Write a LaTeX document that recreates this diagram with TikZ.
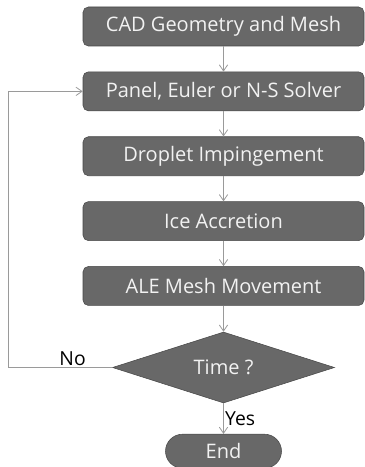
\documentclass[tikz,border=0pt]{standalone}
\usepackage{fontspec}
\setmainfont{Open Sans}
\usetikzlibrary{arrows.meta, shapes.geometric, positioning}

\definecolor{boxfill}{HTML}{686868}
\definecolor{boxline}{HTML}{484848}
\definecolor{boxtext}{HTML}{F2F2F2}
\definecolor{linkgray}{HTML}{9A9A9A}

\begin{document}
\begin{tikzpicture}[
    x=0.75pt, y=-0.75pt,
    node distance=19pt,
    box/.style={rectangle, draw=boxline, fill=boxfill, rounded corners=4pt, minimum width=210.75pt, minimum height=29.25pt, align=center, text=boxtext, font=\fontsize{15}{18}\selectfont},
    decision/.style={diamond, aspect=3, draw=boxline, fill=boxfill, minimum width=166.5pt, minimum height=53.25pt, inner sep=0pt, text=boxtext, font=\fontsize{15}{18}\selectfont},
    stopbox/.style={rectangle, draw=boxline, fill=boxfill, rounded corners=12.75pt, minimum width=87pt, minimum height=25.5pt, text=boxtext, font=\fontsize{15}{18}\selectfont},
    arrow/.style={-{Straight Barb[length=1.6mm, width=2.2mm]}, draw=linkgray, line width=0.6pt},
    tag/.style={font=\fontsize{14.5}{17}\selectfont, text=black, inner sep=1pt}
]
\useasboundingbox (0,0) rectangle (364,467);

\node[box] (cad) at (223.5,26.5) {CAD Geometry and Mesh};
\node[box, below=of cad] (solver) {Panel, Euler or N-S Solver};
\node[box, below=of solver] (droplet) {Droplet Impingement};
\node[box, below=of droplet] (ice) {Ice Accretion};
\node[box, below=of ice] (ale) {ALE Mesh Movement};
\node[decision, below=19.5pt of ale] (time) {Time ?};
\node[stopbox, below=23pt of time] (stop) {End};

\coordinate (back) at (8,364);

\draw[arrow] (cad) -- (solver);
\draw[arrow] (solver) -- (droplet);
\draw[arrow] (droplet) -- (ice);
\draw[arrow] (ice) -- (ale);
\draw[arrow] (ale) -- (time);
\draw[arrow] (time) -- (stop) node[midway, right, tag] {Yes};
\draw[arrow] (time.west) -- (time.west -| back) node[pos=0.38, above, tag] {No} |- (solver.west);

\end{tikzpicture}
\end{document}
